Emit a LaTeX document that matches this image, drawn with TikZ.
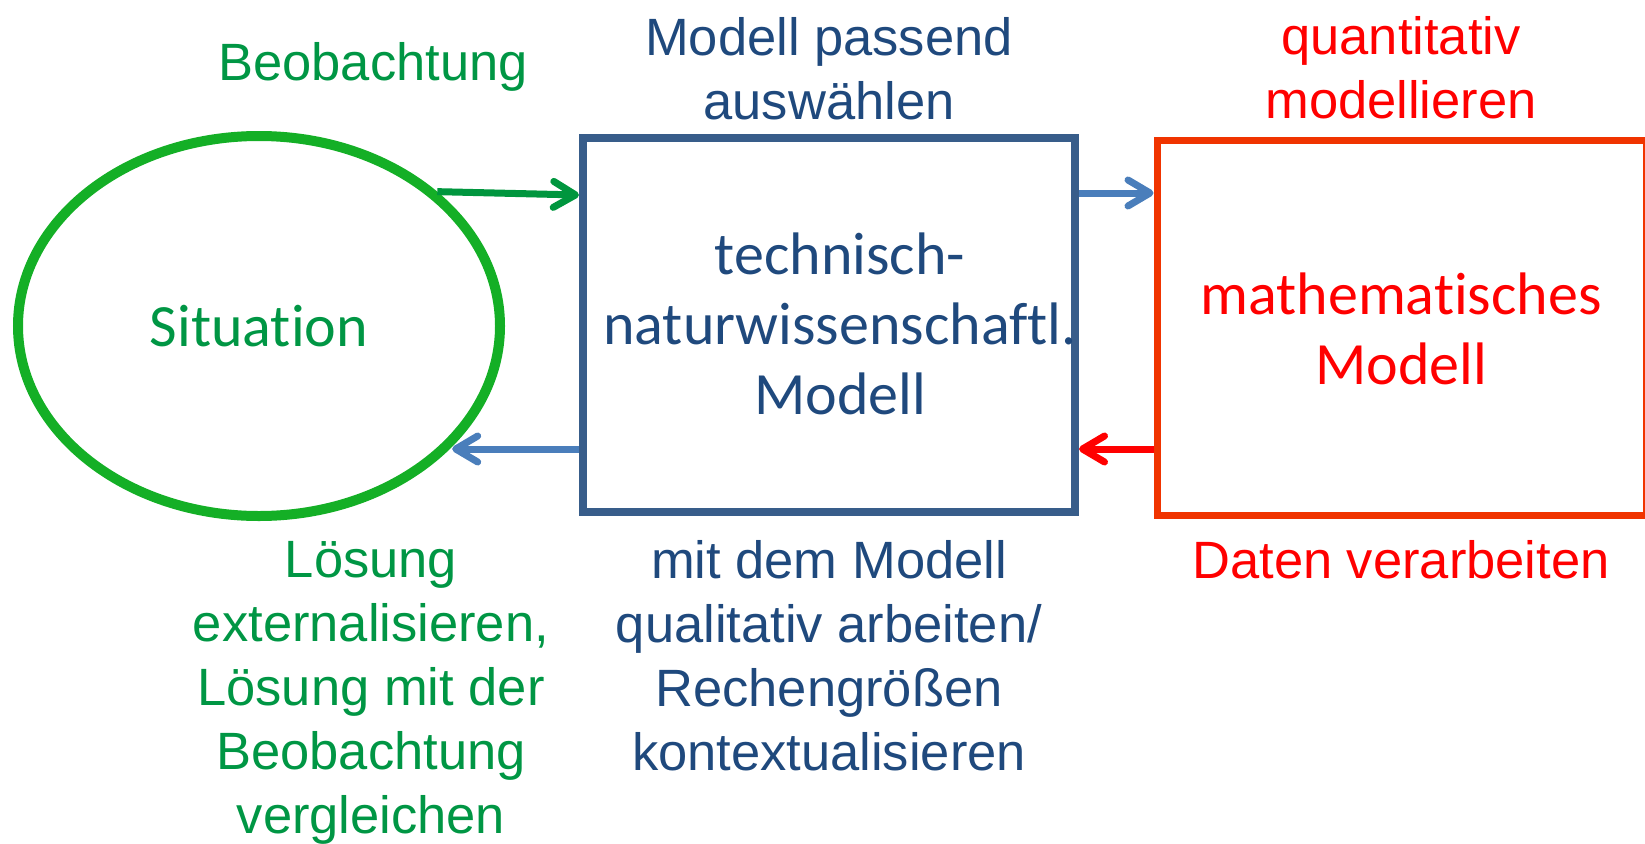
\documentclass[tikz,border=0pt]{standalone}
\usepackage{fontspec}
\setmainfont{Liberation Sans}
\newfontfamily\calfont[Ligatures={NoCommon}]{Carlito}
\usetikzlibrary{shapes.geometric,arrows.meta}
\definecolor{ellgreen}{RGB}{20,175,38}
\definecolor{txtgreen}{RGB}{0,150,68}
\definecolor{arrgreen}{RGB}{0,150,62}
\definecolor{boxblue}{RGB}{56,93,138}
\definecolor{txtblue}{RGB}{31,73,125}
\definecolor{arrblue}{RGB}{74,126,187}
\definecolor{boxred}{RGB}{240,52,0}
\definecolor{txtred}{RGB}{255,0,0}
\begin{document}
\begin{tikzpicture}[x=1pt,y=-1pt,
  lab/.style={font=\fontsize{52.5}{64}\selectfont, align=center, inner sep=0pt},
  inbox/.style={font=\calfont\fontsize{60}{70}\selectfont, align=center, inner sep=0pt},
  conn/.style={line width=7pt, -{Straight Barb[length=22pt,width=26pt,round]}},
]
\useasboundingbox (0,0) rectangle (1645,843);
\node[ellipse, draw=ellgreen, line width=10pt, minimum width=482pt, minimum height=380pt,
      inner sep=0pt, text=txtgreen, font=\calfont\fontsize{60}{70}\selectfont] (sit) at (259,326) {Situation};
\node[rectangle, draw=boxblue, line width=8pt, minimum width=492pt, minimum height=374pt] (tech) at (829,325) {};
\node[inbox, text=txtblue] (techtxt) at (840,324) {technisch-\\naturwissenschaftl.\\Modell};
\node[rectangle, draw=boxred, line width=7pt, minimum width=489pt, minimum height=375pt] (math) at (1401.5,327.5) {};
\node[inbox, text=txtred] (mathtxt) at (1401,329) {mathematisches\\Modell};

\node[lab, text=txtgreen, anchor=base] (beob) at (373,80) {Beobachtung};
\node[lab, text=txtblue] (wahl) at (829,69) {Modell passend\\auswählen};
\node[lab, text=txtred] (quant) at (1401,68) {quantitativ\\modellieren};
\node[lab, text=txtgreen] (loes) at (371,693) {Lösung\\externalisieren,\\Lösung mit der\\Beobachtung\\vergleichen};
\node[lab, text=txtblue] (qual) at (829,656) {mit dem Modell\\qualitativ arbeiten/\\Rechengrößen\\kontextualisieren};
\node[lab, text=txtred, anchor=base] (daten) at (1401,578) {Daten verarbeiten};

\draw[conn, arrgreen] (sit.37.5) -- ([yshift=130pt]tech.west);
\coordinate (tr) at ([yshift=132pt]tech.east);
\draw[conn, arrblue] (tr) -- (tr -| math.west);
\coordinate (bl) at ([yshift=-124pt]tech.west);
\draw[conn, arrblue] (bl) -- (bl -| sit.-32.5);
\coordinate (br) at ([yshift=-121.5pt]math.west);
\draw[conn, txtred] (br) -- (br -| tech.east);
\end{tikzpicture}
\end{document}
